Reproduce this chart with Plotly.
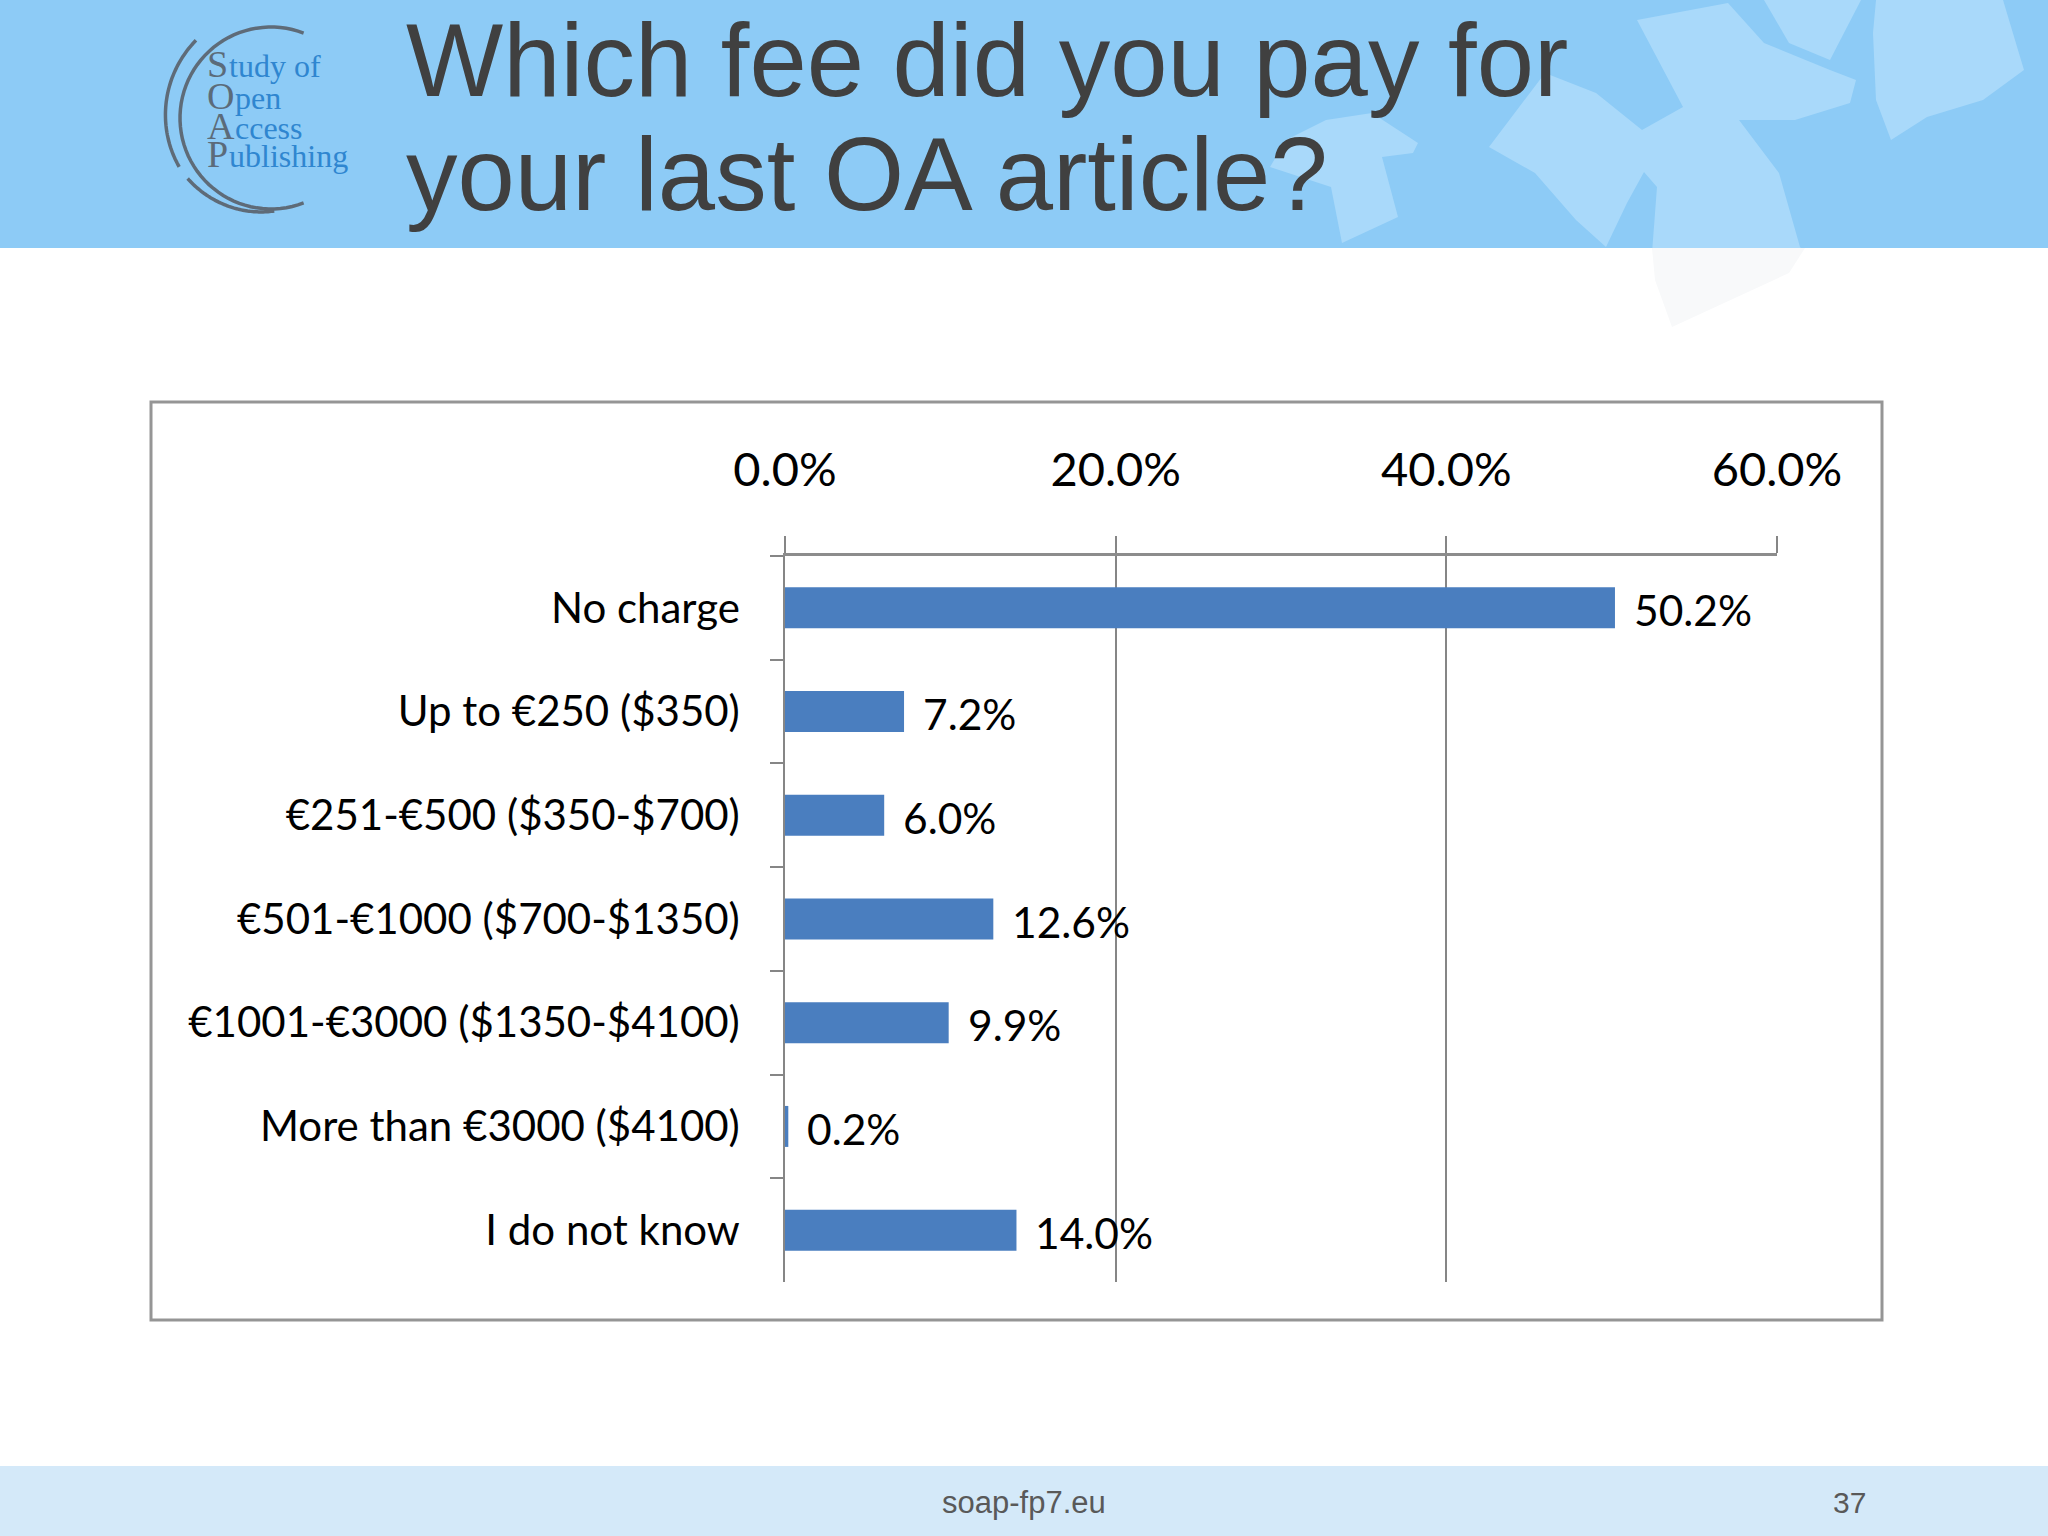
import numpy as np
import plotly.graph_objects as go

# ---------------- data ----------------
categories = [
    "No charge",
    "Up to €250 ($350)",
    "€251-€500 ($350-$700)",
    "€501-€1000 ($700-$1350)",
    "€1001-€3000 ($1350-$4100)",
    "More than €3000 ($4100)",
    "I do not know",
]
shares = [50.2, 7.2, 6.0, 12.6, 9.9, 0.2, 14.0]
x_ticks = [0, 20, 40, 60]
x_tick_labels = ["0.0%", "20.0%", "40.0%", "60.0%"]

title_lines = ["Which fee did you pay for", "your last OA article?"]
logo_initials = ["S", "O", "A", "P"]
logo_rest = ["tudy of", "pen", "ccess", "ublishing"]
footer_text = "soap-fp7.eu"
page_number = "37"

W, H = 2048, 1536


def px(x):
    return x / W


def py(y):
    return 1 - y / H


def poly(points, close=True):
    s = "M " + " L ".join(f"{px(a):.5f},{py(b):.5f}" for a, b in points)
    return s + (" Z" if close else "")


def arc(cx, cy, r0, r1, a0, a1, n=60):
    t = np.linspace(np.radians(a0), np.radians(a1), n)
    r = np.linspace(r0, r1, n)
    pts = list(zip(cx + r * np.cos(t), cy - r * np.sin(t)))
    return poly(pts, close=False)


FONT = "Lato, 'Open Sans', sans-serif"
SERIF = "'Liberation Serif', 'DejaVu Serif', serif"
ARIAL = "'Liberation Sans', Arial, sans-serif"

fig = go.Figure()
fig.add_trace(
    go.Bar(
        x=shares,
        y=categories,
        orientation="h",
        marker=dict(color="#4A7EBF", line=dict(width=0)),
        hoverinfo="skip",
    )
)

shapes = []
# header band
shapes.append(dict(type="rect", xref="paper", yref="paper", x0=0, x1=1, y0=py(248), y1=1,
                   fillcolor="#8DCBF6", line=dict(width=0), layer="below"))
light = "#A9D9FA"
deco = [
    [(1326, 120), (1372, 113), (1418, 143), (1413, 153), (1382, 157), (1398, 217), (1342, 243),
     (1331, 187), (1270, 167), (1286, 140)],
    [(1489, 147), (1545, 73), (1596, 93), (1642, 130), (1683, 107), (1637, 20), (1728, 3),
     (1764, 43), (1830, 70), (1856, 80), (1850, 103), (1795, 120), (1739, 120), (1779, 173),
     (1800, 247), (1805, 253), (1789, 273), (1672, 327), (1652, 253), (1657, 187), (1644, 172),
     (1627, 203), (1606, 247), (1576, 220), (1535, 173)],
    [(1764, 0), (1861, 0), (1830, 60), (1789, 43)],
    [(1876, 0), (2003, 0), (2024, 70), (1983, 100), (1927, 117), (1891, 140), (1876, 100), (1873, 33)],
]
for p in deco:
    shapes.append(dict(type="path", xref="paper", yref="paper", path=poly(p),
                       fillcolor=light, line=dict(width=0), layer="below"))
# white body (clip decorations)
shapes.append(dict(type="rect", xref="paper", yref="paper", x0=0, x1=1, y0=py(1466), y1=py(248),
                   fillcolor="white", line=dict(width=0), layer="below"))
shapes.append(dict(type="path", xref="paper", yref="paper",
                   path=poly([(1652, 248), (1805, 248), (1789, 273), (1672, 327), (1655, 280)]),
                   fillcolor="#F8F9FA", line=dict(width=0), layer="below"))
# footer band
shapes.append(dict(type="rect", xref="paper", yref="paper", x0=0, x1=1, y0=0, y1=py(1466),
                   fillcolor="#D4E9F9", line=dict(width=0), layer="below"))
# chart box
shapes.append(dict(type="rect", xref="paper", yref="paper", x0=px(151), x1=px(1882), y0=py(1320), y1=py(402),
                   fillcolor="rgba(0,0,0,0)", line=dict(color="#959595", width=3), layer="below"))
# logo arcs
logo_c = "#5E6B78"
shapes.append(dict(type="path", xref="paper", yref="paper", path=arc(271, 118, 91, 91, 69, 291),
                   line=dict(color=logo_c, width=3.5)))
shapes.append(dict(type="path", xref="paper", yref="paper", path=arc(271, 118, 108, 104, 134, 208),
                   line=dict(color=logo_c, width=3.5)))
shapes.append(dict(type="path", xref="paper", yref="paper", path=arc(271, 118, 103, 93, 216, 272),
                   line=dict(color=logo_c, width=3.5)))

annotations = []
# title
for txt, yc in zip(title_lines, [61, 175]):
    annotations.append(dict(text=txt, xref="paper", yref="paper", x=px(404), y=py(yc),
                            xanchor="left", yanchor="middle", showarrow=False,
                            font=dict(family=ARIAL, size=103, color="#404040")))
# logo text: initials (gray, larger) + rest (blue)
logo_base = [77, 109, 139, 167]
init_w = {"S": 21, "O": 27, "A": 27, "P": 21}
for ini, rest, yb in zip(logo_initials, logo_rest, logo_base):
    annotations.append(dict(text=ini, xref="paper", yref="paper", x=px(205), y=py(yb - 13),
                            xanchor="left", yanchor="middle", showarrow=False,
                            font=dict(family=SERIF, size=38, color="#5B6B7A")))
    annotations.append(dict(text=rest, xref="paper", yref="paper", x=px(206 + init_w[ini]), y=py(yb - 11),
                            xanchor="left", yanchor="middle", showarrow=False,
                            font=dict(family=SERIF, size=32, color="#2F86D0")))
# data labels
for c, v in zip(categories, shares):
    annotations.append(dict(text=f"{v:.1f}%", x=v, y=c, xref="x", yref="y", xanchor="left",
                            yanchor="middle", xshift=17, yshift=-2, showarrow=False,
                            font=dict(family=FONT, size=42.5, color="#000000")))
# footer
annotations.append(dict(text=footer_text, xref="paper", yref="paper", x=px(1024), y=py(1502),
                        xanchor="center", yanchor="middle", showarrow=False,
                        font=dict(family=ARIAL, size=31, color="#595959")))
annotations.append(dict(text=page_number, xref="paper", yref="paper", x=px(1849), y=py(1502),
                        xanchor="center", yanchor="middle", showarrow=False,
                        font=dict(family=ARIAL, size=30, color="#595959")))

fig.update_layout(
    width=W, height=H,
    margin=dict(l=0, r=0, t=0, b=0),
    paper_bgcolor="white",
    plot_bgcolor="rgba(0,0,0,0)",
    showlegend=False,
    bargap=0.605,
    shapes=shapes,
    annotations=annotations,
    xaxis=dict(
        domain=[px(785), px(1777)],
        range=[0, 60],
        side="top",
        tickvals=x_ticks,
        ticktext=x_tick_labels,
        ticks="outside", ticklen=17, tickwidth=1.5, tickcolor="#868686",
        showgrid=True, gridcolor="#868686", gridwidth=1.5,
        showline=True, linecolor="#8C8C8C", linewidth=3,
        zeroline=False,
        tickfont=dict(family=FONT, size=47, color="#000000"),
        ticklabelstandoff=31,
        automargin=False,
        fixedrange=True,
    ),
    yaxis=dict(
        domain=[py(1282), py(556)],
        autorange="reversed",
        tickson="boundaries",
        ticks="outside", ticklen=13, tickwidth=1.5, tickcolor="#868686",
        showgrid=False,
        showline=True, linecolor="#868686", linewidth=1.5,
        zeroline=False,
        tickfont=dict(family=FONT, size=42, color="#000000"),
        ticklabelstandoff=35,
        automargin=False,
        fixedrange=True,
    ),
)

fig.write_html("out.html", config={"displayModeBar": False},
               post_script="document.body.style.margin='0';document.body.style.overflow='hidden';")
